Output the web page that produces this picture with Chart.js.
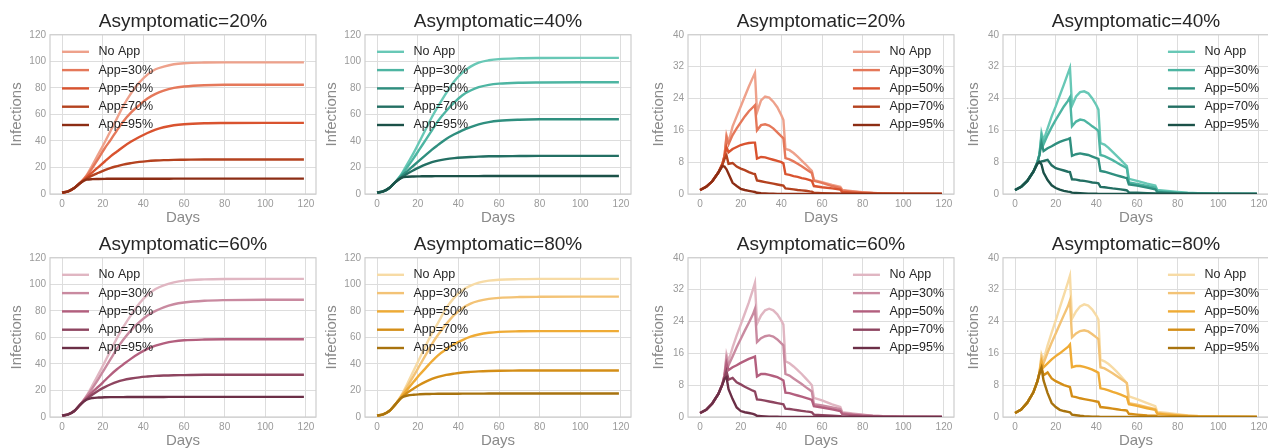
<!DOCTYPE html>
<html lang="en">
<head>
<meta charset="UTF-8">
<title>Infections by app adoption</title>
<script src="https://cdn.jsdelivr.net/npm/chart.js"></script>
<style>
  html, body { margin: 0; padding: 0; background: #fff; }
  #figure { position: relative; width: 1268px; height: 448px; overflow: hidden; }
  #figure canvas { position: absolute; }
</style>
</head>
<body>
<div id="figure"></div>
<script>
// labels and tick values
const seriesLabels = ['No App', 'App=30%', 'App=50%', 'App=70%', 'App=95%'];
const dayTicks = [0, 20, 40, 60, 80, 100, 120];
const cumTicksY = [0, 20, 40, 60, 80, 100, 120];
const dailyTicksY = [0, 8, 16, 24, 32, 40];

const cumDays = [0,3,6,9,12,15,18,21,24,27,30,34,38,42,46,50,55,60,70,80,100,119];
const dailyDays = [0,3,6,9,11,12,13,14,16,18,20,22,24,26,27,28,30,32,34,36,38,40,41,42,
                   44,46,48,50,52,54,55,56,60,65,69,70,75,80,85,90,100,119];

// cumulative infections
const c20NoApp = [1,2,4.5,8.5,14,22,30.5,39,48,57,66,76,84,90,94,96,97.8,98.6,99.1,99.2,99.2,99.2];
const c20App30 = [1,2,4.5,8.5,13.5,20,27,34.5,41,48,54.5,61.5,67,72,75.5,78,80,81,82,82.3,82.3,82.3];
const c20App50 = [1,2,4.5,8.5,12.5,16.5,20.5,24.5,28.5,32,35.5,39.5,43,46,48.5,50.3,51.8,52.6,53.3,53.5,53.6,53.6];
const c20App70 = [1,2,4.5,8.5,11.5,14,16,18,19.7,21,22.2,23.3,24.2,24.8,25.2,25.5,25.7,25.8,26,26,26,26];
const c20App95 = [1,2,4.5,8.3,10.8,11.2,11.3,11.4,11.5,11.5,11.5,11.5,11.5,11.5,11.5,11.5,11.6,11.6,11.6,11.6,11.6,11.6];

const c40NoApp = [1,2,4.5,9,15,23,31,40,49,58,66,76,85,91.5,96,99,100.8,101.7,102.3,102.5,102.6,102.6];
const c40App30 = [1,2,4.5,9,14.5,20.5,27,34,41,48,55,62.5,69,74.5,78,80.5,82.3,83.2,83.9,84.1,84.2,84.2];
const c40App50 = [1,2,4.5,9,13.5,17.5,21.5,25.5,29.5,33.5,37,41.5,45,48,50.5,52.5,54.2,55.2,56,56.3,56.4,56.4];
const c40App70 = [1,2,4.5,9,12.5,15.5,18,20.3,22.3,24,25.2,26.3,27,27.5,27.9,28.2,28.4,28.5,28.6,28.7,28.7,28.7];
const c40App95 = [1,2,4.5,9,12.2,13,13.2,13.3,13.4,13.4,13.5,13.5,13.5,13.5,13.5,13.5,13.6,13.6,13.6,13.6,13.6,13.6];

const c60NoApp = [1,2,4.5,9.5,16,24,32.5,41.5,50.5,59.5,67.5,77,85.5,92,96.5,99.3,101.5,102.8,103.7,104,104.1,104.1];
const c60App30 = [1,2,4.5,9.5,15.5,22,29,36.5,44,51.5,58,65.5,71.5,76.5,80,82.7,85,86.3,87.6,88.1,88.4,88.4];
const c60App50 = [1,2,4.5,9.5,14.5,19,23,27.5,32,36,39.5,44,48,51.3,53.8,55.5,57,57.8,58.4,58.6,58.6,58.6];
const c60App70 = [1,2,4.5,9.5,13.5,17,20,22.5,24.7,26.5,27.8,29,29.9,30.5,31,31.3,31.5,31.6,31.8,31.8,31.8,31.8];
const c60App95 = [1,2,4.5,9.3,13,14.3,14.7,14.9,15,15,15,15.1,15.1,15.1,15.1,15.1,15.2,15.2,15.2,15.2,15.2,15.2];

const c80NoApp = [1,2,4.5,9.5,16.5,25.5,35,44.5,54,63,71,82,90,95.5,99,101.3,102.8,103.5,103.9,104.1,104.1,104.1];
const c80App30 = [1,2,4.5,9.5,16,23.5,31,39,47,55,62,70,77,82,85.5,87.5,89,89.8,90.4,90.6,90.7,90.7];
const c80App50 = [1,2,4.5,9.5,15.5,21,26.5,32,37,42,46.5,51,55,58,60.5,62.2,63.5,64.2,64.6,64.7,64.7,64.7];
const c80App70 = [1,2,4.5,9.5,14.5,18.5,21.5,24.3,26.7,28.7,30.2,31.7,32.7,33.5,34,34.4,34.7,34.9,35,35.1,35.1,35.1];
const c80App95 = [1,2,4.5,9.5,14.5,16.2,16.8,17.1,17.3,17.4,17.5,17.5,17.5,17.6,17.6,17.6,17.7,17.7,17.7,17.7,17.7,17.7];

// daily infections
const d20NoApp = [1,1.8,3.2,5.4,7.6,9.6,14.8,13, 17,19.5,22,24.5,27,29.3,30.4,20.5, 23.5,24.5,24.2,23.2,21.8,19.8,18.6,11.3,
                  11,10.3,9.4,8.4,7.4,6.3,5.8,3.5, 3,2.3,1.8,1,0.7,0.45,0.25,0.15, 0.05,0];
const d20App30 = [1,1.8,3.2,5.4,7.6,9.6,14.2,12.5, 14.8,16.5,18,19.5,20.8,21.8,22.3,16, 17.3,17.5,17.2,16.5,15.5,14.5,14,9,
                  8.7,8.2,7.6,7,6.3,5.6,5.3,3.3, 2.8,2,1.5,0.8,0.6,0.4,0.25,0.15, 0.05,0];
const d20App50 = [1,1.8,3.2,5.4,7.6,9.4,11.8,10.5, 11.3,11.8,12.3,12.6,12.8,12.9,12.9,8.9, 9.3,9.2,8.9,8.6,8.3,8,7.7,5,
                  4.8,4.5,4.3,4,3.8,3.5,3.3,2, 1.7,1.4,1.1,0.5,0.35,0.22,0.15,0.08, 0.03,0];
const d20App70 = [1,1.8,3.2,5.4,7.4,8.8,9.7,7.6, 7.8,6.9,6.4,6,5.5,5.1,5,3.4, 3.2,3,2.8,2.6,2.4,2.2,2.1,1.4,
                  1.3,1.15,1,0.9,0.8,0.65,0.6,0.3, 0.22,0.12,0.08,0.05,0.03,0.01,0,0, 0,0];
const d20App95 = [1,1.8,3.2,5.4,7,6.9,6.2,5.1, 2.8,2,1.3,1,0.8,0.6,0.5,0.3, 0.2,0.15,0.1,0.06,0.04,0.02,0.02,0.01,
                  0,0,0,0,0,0,0,0, 0,0,0,0,0,0,0,0, 0,0];

const d40NoApp = [1,1.8,3.3,5.6,8,10,15.4,13.5, 16.5,19.5,22,24.8,27.5,30.3,31.7,22.2, 24.5,25.6,25.8,25.3,24,22.3,21.2,12.8,
                  12.4,11.6,10.6,9.6,8.6,7.5,7,3.8, 3.3,2.6,2.1,1,0.75,0.5,0.3,0.2, 0.08,0];
const d40App30 = [1,1.8,3.3,5.6,8,10,14.5,12.5, 14.8,16.8,18.6,20.3,22,23.4,24.3,17, 18.2,18.7,18.5,17.8,17,16.3,15.8,9.8,
                  9.5,9,8.5,7.9,7.3,6.8,6.5,2.9, 2.5,2,1.6,0.7,0.5,0.35,0.2,0.12, 0.05,0];
const d40App50 = [1,1.8,3.3,5.6,8,9.8,12.8,10.8, 11.5,12,12.6,13.1,13.5,13.8,14,9.6, 10,10.2,10,9.8,9.4,9,8.8,5.8,
                  5.6,5.3,5,4.7,4.4,4.1,4,2.4, 2.1,1.6,1.2,0.5,0.35,0.2,0.12,0.07, 0.03,0];
const d40App70 = [1,1.8,3.3,5.6,7.6,7.9,8.2,8.3, 8.6,7.2,6.5,6.2,5.9,5.6,5.5,3.7, 3.6,3.4,3.3,3.1,2.9,2.8,2.7,1.8,
                  1.7,1.55,1.4,1.3,1.15,1,0.9,0.4, 0.3,0.2,0.12,0.08,0.05,0.03,0.01,0, 0,0];
const d40App95 = [1,1.8,3.3,5.6,7.7,8.1,7.4,5.4, 3.5,2.2,1.5,1.1,0.8,0.6,0.55,0.35, 0.28,0.2,0.14,0.1,0.07,0.05,0.04,0.02,
                  0.01,0,0,0,0,0,0,0, 0,0,0,0,0,0,0,0, 0,0];

const d60NoApp = [1,1.8,3.4,5.8,8.3,10.5,15.8,14, 17.5,20.5,23.2,26,28.8,32,33.7,23.4, 25.5,26.8,27.2,26.8,25.8,24.2,23.2,14,
                  13.5,12.7,11.8,10.8,9.7,8.6,8,4.8, 4.2,3.2,2.5,1.2,0.9,0.6,0.35,0.2, 0.08,0];
const d60App30 = [1,1.8,3.4,5.8,8.3,10.5,14.8,13, 15.2,17.5,19.6,21.7,23.7,25.8,27.2,18.8, 19.8,20.3,20.5,20.2,19.5,18.5,18,10.8,
                  10.4,9.7,9,8.3,7.5,6.8,6.4,3.2, 2.9,2.4,2,1,0.7,0.5,0.3,0.17, 0.06,0];
const d60App50 = [1,1.8,3.4,5.8,8.3,10.3,13.5,11.8, 12.5,13,13.6,14.1,14.6,15,15.2,10.2, 10.8,10.8,10.6,10.3,10,9.5,9.2,6.1,
                  6,5.7,5.4,5.1,4.8,4.5,4.3,2.7, 2.4,1.9,1.5,0.7,0.5,0.3,0.18,0.1, 0.04,0];
const d60App70 = [1,1.8,3.4,5.8,8.2,9.8,11.5,9.4, 9.8,8.7,8.2,7.6,7.1,6.6,6.4,4.4, 4.3,4.1,3.9,3.7,3.5,3.3,3.2,2.1,
                  2,1.85,1.7,1.55,1.4,1.3,1.2,0.6, 0.45,0.3,0.22,0.1,0.06,0.04,0.02,0, 0,0];
const d60App95 = [1,1.8,3.4,5.8,8.2,9.6,10,7, 4.5,2.4,1.5,1.2,1,0.8,0.6,0.3, 0.22,0.16,0.1,0.07,0.05,0.03,0.02,0.01,
                  0,0,0,0,0,0,0,0, 0,0,0,0,0,0,0,0, 0,0];

const d80NoApp = [1,1.9,3.6,6.2,9,11.2,15.7,14.3, 18,21.2,24.3,27.5,30.6,33.8,35.5,24.7, 26.5,27.8,28.3,28,27,25.5,24.5,14.4,
                  14,13.3,12.4,11.4,10.3,9.1,8.5,5.2, 4.5,3.5,2.7,1.3,1,0.7,0.4,0.25, 0.1,0];
const d80App30 = [1,1.9,3.6,6.2,9,11.2,15,13.5, 16.2,18.7,21,23.3,25.6,27.8,29.3,20, 21,21.6,21.8,21.5,20.8,20,19.6,12.5,
                  12.2,11.6,11,10.3,9.6,8.9,8.5,3.5, 3.1,2.5,2,1,0.75,0.5,0.3,0.18, 0.07,0];
const d80App50 = [1,1.9,3.6,6.2,9,11.2,14,12.5, 13.5,14.5,15.3,16,16.8,17.6,18.2,12.5, 12.8,12.8,12.6,12.3,11.9,11.4,11.1,7.2,
                  7,6.7,6.3,6,5.6,5.2,5,3.2, 2.8,2.2,1.8,0.8,0.6,0.4,0.25,0.14, 0.05,0];
const d80App70 = [1,1.9,3.6,6.2,9,11,12.5,10.5, 11.2,9.7,9,8.5,8,7.7,7.5,5.2, 5,4.7,4.5,4.3,4.1,3.9,3.8,2.5,
                  2.4,2.25,2.1,1.95,1.8,1.7,1.6,0.8, 0.6,0.4,0.3,0.15,0.1,0.05,0.02,0, 0,0];
const d80App95 = [1,1.9,3.6,6.2,9,11,12.3,9.2, 6,3.5,2.5,1.8,1.5,1.3,1.2,0.6, 0.45,0.3,0.2,0.14,0.1,0.07,0.06,0.03,
                  0.02,0.01,0,0,0,0,0,0, 0,0,0,0,0,0,0,0, 0,0];

// colour families, light to dark
const reds  = ['#eea18b', '#e5785a', '#d9532f', '#b4421f', '#8c2d14'];
const teals = ['#68c8b6', '#4db5a2', '#2f8f7f', '#236f63', '#1b5148'];
const mauves = ['#e0b6c2', '#c98aa0', '#b35f7e', '#8e4560', '#6b2f47'];
const golds = ['#f7dba5', '#f3c376', '#efab35', '#d48e17', '#a8730e'];

const panels = [
  { title: 'Asymptomatic=20%', kind: 'cum', colors: reds,   series: [c20NoApp, c20App30, c20App50, c20App70, c20App95], left: 0,   top: 0 },
  { title: 'Asymptomatic=40%', kind: 'cum', colors: teals,  series: [c40NoApp, c40App30, c40App50, c40App70, c40App95], left: 315, top: 0 },
  { title: 'Asymptomatic=20%', kind: 'daily', colors: reds,  series: [d20NoApp, d20App30, d20App50, d20App70, d20App95], left: 638, top: 0 },
  { title: 'Asymptomatic=40%', kind: 'daily', colors: teals, series: [d40NoApp, d40App30, d40App50, d40App70, d40App95], left: 953, top: 0 },
  { title: 'Asymptomatic=60%', kind: 'cum', colors: mauves, series: [c60NoApp, c60App30, c60App50, c60App70, c60App95], left: 0,   top: 223 },
  { title: 'Asymptomatic=80%', kind: 'cum', colors: golds,  series: [c80NoApp, c80App30, c80App50, c80App70, c80App95], left: 315, top: 223 },
  { title: 'Asymptomatic=60%', kind: 'daily', colors: mauves, series: [d60NoApp, d60App30, d60App50, d60App70, d60App95], left: 638, top: 223 },
  { title: 'Asymptomatic=80%', kind: 'daily', colors: golds,  series: [d80NoApp, d80App30, d80App50, d80App70, d80App95], left: 953, top: 223 }
];

const fontFamily = "'Liberation Sans', Arial, sans-serif";
Chart.defaults.font.family = fontFamily;

// light grey box round the plot area
const frame = {
  id: 'frame',
  beforeDatasetsDraw(chart) {
    const a = chart.chartArea;
    const ctx = chart.ctx;
    ctx.save();
    ctx.strokeStyle = '#cfcfcf';
    ctx.lineWidth = 1.25;
    ctx.strokeRect(a.left, a.top, a.right - a.left, a.bottom - a.top);
    ctx.restore();
  }
};

// panel title centred over the plot area (not the whole canvas)
const panelTitle = {
  id: 'panelTitle',
  afterDraw(chart, args, opts) {
    const a = chart.chartArea;
    const ctx = chart.ctx;
    ctx.save();
    ctx.font = '19px ' + fontFamily;
    ctx.fillStyle = '#262626';
    ctx.textAlign = 'center';
    ctx.textBaseline = 'middle';
    ctx.fillText(opts.text, (a.left + a.right) / 2, a.top - 13.4);
    ctx.restore();
  }
};

// frameless legend drawn inside the plot
const insideLegend = {
  id: 'insideLegend',
  afterDatasetsDraw(chart, args, opts) {
    const a = chart.chartArea;
    const ctx = chart.ctx;
    ctx.save();
    ctx.font = '12.5px ' + fontFamily;
    const sets = chart.data.datasets;
    const maxW = Math.max(...sets.map(d => ctx.measureText(d.label).width));
    const x0 = opts.align === 'right' ? a.right - 10 - maxW - 36.5 : a.left + 12;
    sets.forEach((d, i) => {
      const y = a.top + 17 + i * 18.3;
      ctx.strokeStyle = d.borderColor;
      ctx.lineWidth = 2.4;
      ctx.beginPath();
      ctx.moveTo(x0, y);
      ctx.lineTo(x0 + 27, y);
      ctx.stroke();
      ctx.fillStyle = '#262626';
      ctx.textBaseline = 'middle';
      ctx.fillText(d.label, x0 + 36.5, y);
    });
    ctx.restore();
  }
};

const fig = document.getElementById('figure');

panels.forEach(p => {
  const canvas = document.createElement('canvas');
  canvas.width = 328;
  canvas.height = 227;
  canvas.style.left = p.left + 'px';
  canvas.style.top = p.top + 'px';
  fig.appendChild(canvas);

  const cum = p.kind === 'cum';
  const days = cum ? cumDays : dailyDays;
  const yTicks = cum ? cumTicksY : dailyTicksY;

  new Chart(canvas, {
    type: 'line',
    data: {
      datasets: p.series.map((vals, i) => ({
        label: seriesLabels[i],
        data: vals.map((v, k) => ({ x: days[k], y: v })),
        borderColor: p.colors[i],
        borderWidth: 2.4,
        pointRadius: 0,
        fill: false,
        order: seriesLabels.length - i,
        cubicInterpolationMode: cum ? 'monotone' : 'default',
        tension: 0
      }))
    },
    options: {
      responsive: false,
      animation: false,
      devicePixelRatio: 1,
      layout: { padding: { top: 34.8, right: 12 } },
      scales: {
        x: {
          type: 'linear',
          min: -5.95,
          max: 124.95,
          afterBuildTicks: s => { s.ticks = dayTicks.map(v => ({ value: v })); },
          afterFit: s => { s.height = 33; },
          grid: { color: '#dddddd', lineWidth: 1, drawTicks: false },
          border: { display: false },
          ticks: { color: '#9a9a9a', font: { size: 10 }, padding: 4, maxRotation: 0, autoSkip: false },
          title: { display: true, text: 'Days', color: '#8a8a8a', font: { size: 15 }, padding: { top: 0, bottom: 0 } }
        },
        y: {
          type: 'linear',
          min: 0,
          max: yTicks[yTicks.length - 1],
          afterBuildTicks: s => { s.ticks = yTicks.map(v => ({ value: v })); },
          afterFit: s => { s.width = 50; },
          grid: { color: '#dddddd', lineWidth: 1, drawTicks: false },
          border: { display: false },
          ticks: { color: '#9a9a9a', font: { size: 10 }, padding: 4, autoSkip: false },
          title: { display: true, text: 'Infections', color: '#8a8a8a', font: { size: 15 }, padding: { top: cum ? 8 : 12, bottom: 0 } }
        }
      },
      plugins: {
        legend: { display: false },
        tooltip: { enabled: false },
        title: { display: false },
        panelTitle: { text: p.title },
        insideLegend: { align: cum ? 'left' : 'right' }
      }
    },
    plugins: [frame, panelTitle, insideLegend]
  });
});
</script>
</body>
</html>
